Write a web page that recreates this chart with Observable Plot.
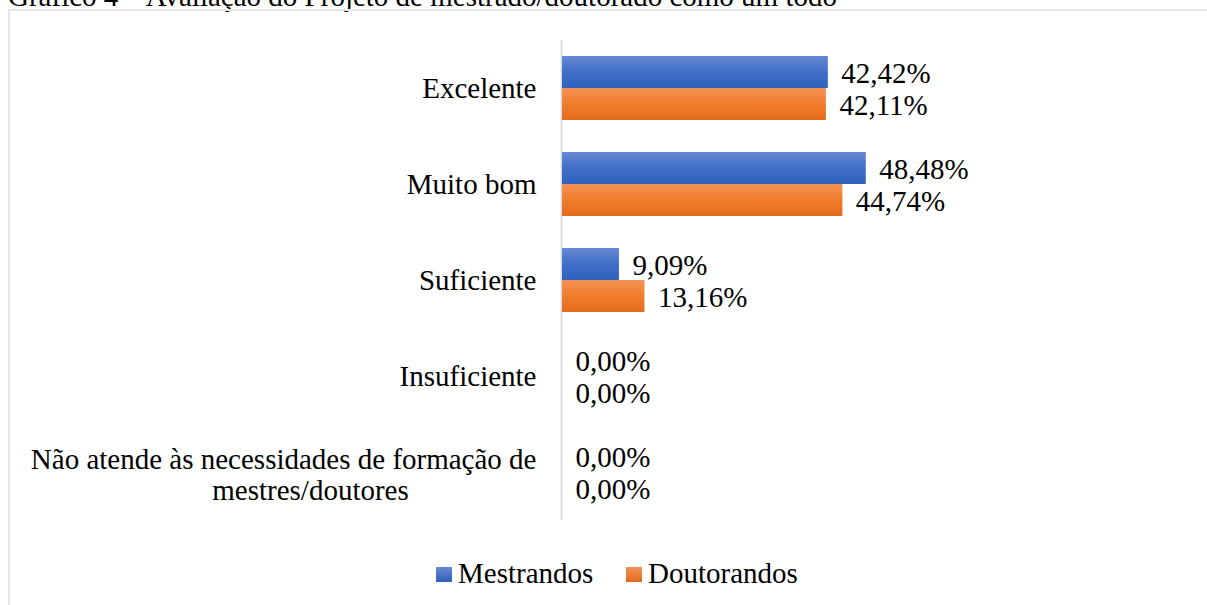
<!DOCTYPE html>
<html>
<head>
<meta charset="utf-8">
<script src="https://cdn.jsdelivr.net/npm/d3@7"></script>
<script src="https://cdn.jsdelivr.net/npm/@observablehq/plot@0.6"></script>
<style>
  html, body { margin: 0; padding: 0; background: #fff; }
  #wrap { position: relative; width: 1207px; height: 605px; overflow: hidden; font-family: "Liberation Serif", "Times New Roman", serif; color: #000; }
  #title { position: absolute; left: 8px; top: -18px; font-size: 29px; line-height: 29px; white-space: nowrap; }
  #frame { position: absolute; left: 8px; top: 9px; width: 1300px; height: 700px; border: 2px solid #e2e6ec; box-sizing: border-box; }
  #chart { position: absolute; left: 0; top: 0; }
  .sw { position: absolute; width: 16px; height: 15px; }
  .lt { position: absolute; font-size: 29px; line-height: 29px; white-space: nowrap; }
</style>
</head>
<body>
<div id="wrap">
  <div id="title">Gráfico 4 – Avaliação do Projeto de mestrado/doutorado como um todo</div>
  <div id="frame"></div>
  <div id="chart"></div>
  <div id="legend"></div>
</div>
<script>
// ---- data ----
const categories = [
  "Excelente",
  "Muito bom",
  "Suficiente",
  "Insuficiente",
  "Não atende às necessidades de formação de mestres/doutores"
];
const categoryLines = [
  ["Excelente"],
  ["Muito bom"],
  ["Suficiente"],
  ["Insuficiente"],
  ["Não atende às necessidades de formação de", "mestres/doutores"]
];
const series = ["Mestrandos", "Doutorandos"];
const mestrandos = [42.42, 48.48, 9.09, 0.00, 0.00];
const doutorandos = [42.11, 44.74, 13.16, 0.00, 0.00];
const seriesColors = ["#4472C4", "#ED7D31"];

// table built from the arrays
const rows = [];
categories.forEach((c, i) => {
  rows.push({category: c, series: series[0], value: mestrandos[i]});
  rows.push({category: c, series: series[1], value: doutorandos[i]});
});
const fmt = v => v.toFixed(2).replace(".", ",") + "%";

const single = categories.map((c, i) => ({category: c, lines: categoryLines[i]})).filter(d => d.lines.length === 1);
const multi = categories.map((c, i) => ({category: c, lines: categoryLines[i]})).filter(d => d.lines.length > 1);

const chart = Plot.plot({
  width: 1207,
  height: 530,
  marginLeft: 562,
  marginRight: 269,
  marginTop: 39,
  marginBottom: 10,
  style: {fontFamily: '"Liberation Serif", "Times New Roman", serif', fontSize: "29px", color: "#000", background: "transparent", overflow: "visible"},
  x: {domain: [0, 60], axis: null},
  y: {domain: series, paddingInner: 0, paddingOuter: 0.48, axis: null},
  fy: {domain: categories, padding: 0, axis: null},
  color: {domain: series, range: ["url(#gradBlue)", "url(#gradOrange)"]},
  marks: [
    Plot.ruleX(categories, {x: () => 0, fy: d => d, stroke: "#d9dde3", strokeWidth: 2, dx: -1}),
    Plot.barX(rows, {x: "value", y: "series", fy: "category", fill: "series"}),
    Plot.text(rows, {x: "value", y: "series", fy: "category", text: d => fmt(d.value), textAnchor: "start", dx: 13, dy: 1, fill: "#000"}),
    Plot.text(single, {fy: "category", frameAnchor: "left", text: d => d.lines[0], textAnchor: "end", dx: -26, fill: "#000"}),
    Plot.text(multi, {fy: "category", frameAnchor: "left", text: d => d.lines[0], textAnchor: "end", dx: -26, dy: -13, fill: "#000"}),
    Plot.text(multi, {fy: "category", frameAnchor: "left", text: d => d.lines[1], textAnchor: "middle", dx: -252, dy: 18, fill: "#000"})
  ]
});

// gradient defs for the Excel-like bar fill
const ns = "http://www.w3.org/2000/svg";
const defs = document.createElementNS(ns, "defs");
function grad(id, stops) {
  const g = document.createElementNS(ns, "linearGradient");
  g.setAttribute("id", id);
  g.setAttribute("x1", "0"); g.setAttribute("y1", "0");
  g.setAttribute("x2", "0"); g.setAttribute("y2", "1");
  stops.forEach(([o, c]) => {
    const s = document.createElementNS(ns, "stop");
    s.setAttribute("offset", o);
    s.setAttribute("stop-color", c);
    g.appendChild(s);
  });
  defs.appendChild(g);
}
grad("gradBlue", [["0", "#6687d1"], ["0.5", "#4170c9"], ["1", "#2f62bb"]]);
grad("gradOrange", [["0", "#f39257"], ["0.5", "#f27d2c"], ["1", "#e26a1c"]]);
chart.insertBefore(defs, chart.firstChild);
document.getElementById("chart").appendChild(chart);

// legend
const legend = document.getElementById("legend");
const legendPos = [{sq: 436, tx: 458}, {sq: 626, tx: 648}];
series.forEach((s, i) => {
  const sw = document.createElement("div");
  sw.className = "sw";
  sw.style.left = legendPos[i].sq + "px";
  sw.style.top = "567px";
  sw.style.background = i === 0 ? "linear-gradient(#6687d1, #2f62bb)" : "linear-gradient(#f39257, #e26a1c)";
  legend.appendChild(sw);
  const t = document.createElement("div");
  t.className = "lt";
  t.style.left = legendPos[i].tx + "px";
  t.style.top = "559px";
  t.textContent = s;
  legend.appendChild(t);
});
</script>
</body>
</html>
